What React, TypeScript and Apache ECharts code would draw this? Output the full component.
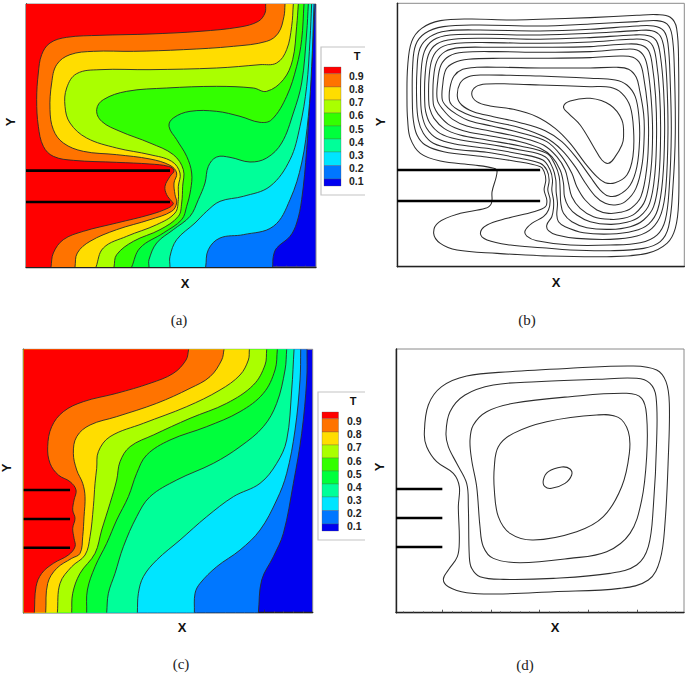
import React, { useEffect, useRef } from "react";
import * as echarts from "echarts";

type P = [number, number];

const levelColors = ["#ff0000", "#ff7300", "#ffdd00", "#aaff00", "#33ff00", "#00ff3c", "#00ff99", "#00e5ff", "#0077ff", "#0000f0"];
const levelLabels = ["0.9", "0.8", "0.7", "0.6", "0.5", "0.4", "0.3", "0.2", "0.1"];

// Panel (a) isotherms, hot to cool
const a1: P[] = [[797,13],[795,40],[775,65],[720,82],[600,95],[450,103],[300,107],[200,113],[150,130],[125,165],[115,220],[110,300],[115,380],[130,440],[160,470],[220,482],[350,488],[450,493],[505,500],[522,512],[510,530],[495,560],[500,585],[515,605],[520,612],[505,625],[450,645],[350,670],[250,695],[190,720],[160,760],[153,802]];
const a2: P[] = [[855,13],[852,50],[835,100],[800,125],[700,140],[550,150],[400,155],[280,155],[210,165],[170,195],[155,250],[150,330],[160,390],[190,430],[250,455],[350,465],[450,478],[510,497],[530,520],[522,550],[525,585],[530,610],[515,635],[450,660],[350,690],[270,725],[232,760],[225,802]];
const a3: P[] = [[880,13],[875,80],[860,150],[830,190],[780,195],[650,205],[450,210],[300,210],[230,222],[200,265],[195,320],[210,370],[260,415],[350,445],[450,465],[515,485],[540,520],[535,560],[535,600],[525,640],[470,675],[380,710],[310,745],[288,802]];
const a4: P[] = [[895,13],[890,80],[878,180],[850,240],[800,275],[760,265],[650,260],[500,265],[380,275],[310,300],[290,330],[305,365],[360,395],[450,430],[520,465],[550,510],[548,560],[545,610],[535,650],[480,690],[400,725],[350,765],[342,802]];
const a5: P[] = [[912,13],[905,120],[890,200],[860,290],[815,360],[780,368],[720,350],[650,335],[570,335],[520,355],[507,380],[530,420],[560,470],[575,520],[572,570],[560,620],[545,660],[490,700],[420,745],[395,802]];
const a6: P[] = [[925,13],[920,100],[905,250],[880,340],[845,430],[800,475],[750,487],[690,473],[650,472],[625,500],[615,550],[595,600],[570,650],[520,690],[470,730],[447,780],[447,802]];
const a7: P[] = [[935,13],[930,120],[920,260],[900,380],[870,480],[810,560],[730,590],[660,605],[620,635],[585,670],[530,720],[510,770],[510,802]];
const a8: P[] = [[942,13],[935,200],[925,350],[905,490],[870,600],[820,680],[730,705],[660,715],[625,750],[617,802]];
const a9: P[] = [[946,13],[943,50],[935,200],[920,450],[905,600],[890,670],[870,710],[830,745],[820,770],[818,802]];

// Panel (c) isotherms, hot to cool
const c1: P[] = [[566,28],[558,60],[520,100],[450,130],[350,160],[250,185],[190,215],[155,260],[143,320],[150,370],[175,405],[210,425],[228,450],[222,480],[218,510],[225,535],[218,565],[222,595],[225,620],[205,645],[160,670],[125,700],[108,740],[103,818]];
const c2: P[] = [[672,28],[665,60],[630,110],[570,145],[470,190],[350,230],[270,255],[230,290],[220,340],[230,390],[248,430],[255,470],[252,530],[248,590],[240,640],[215,655],[170,685],[143,730],[137,818]];
const c3: P[] = [[748,28],[745,60],[720,105],[660,150],[560,200],[430,250],[330,290],[295,335],[290,385],[285,430],[280,500],[270,590],[255,645],[215,680],[180,730],[172,818]];
const c4: P[] = [[800,28],[795,75],[760,135],[680,190],[570,235],[460,285],[390,320],[360,365],[350,420],[330,490],[305,570],[285,640],[240,700],[218,760],[215,818]];
const c5: P[] = [[832,28],[825,90],[790,160],[720,215],[620,260],[510,300],[440,345],[410,400],[385,470],[350,540],[320,610],[285,680],[262,750],[260,818]];
const c6: P[] = [[860,28],[855,90],[830,190],[790,260],[720,320],[640,370],[530,420],[450,470],[410,530],[370,620],[345,700],[325,760],[320,818]];
const c7: P[] = [[882,28],[875,150],[860,300],[830,370],[780,430],[700,470],[620,530],[540,600],[470,660],[430,710],[415,760],[412,818]];
const c8: P[] = [[902,28],[900,120],[885,270],[860,400],[830,480],[780,570],[720,630],[650,680],[600,730],[585,760],[583,818]];
const c9: P[] = [[921,28],[920,120],[905,280],[880,430],[850,580],[820,650],[785,720],[775,818]];

// Panel (b) streamlines, outermost to innermost
const b1: P[] = [[111,300],[113,200],[125,125],[155,85],[211,62],[300,57],[420,60],[510,58],[660,53],[800,46],[860,44],[900,52],[919,85],[925,200],[925,400],[925,605],[915,685],[890,730],[830,760],[710,770],[510,767],[381,760],[261,750],[211,730],[191,700],[206,667],[271,640],[346,625],[364,610],[366,575],[381,515],[371,505],[311,495],[211,483],[151,460],[121,415],[113,360]];
const b2: P[] = [[127,300],[128,200],[137,135],[165,100],[220,80],[320,75],[510,78],[660,72],[800,65],[860,62],[890,72],[905,105],[912,200],[915,400],[908,560],[895,680],[870,725],[820,745],[720,752],[600,750],[516,743],[421,735],[351,720],[331,700],[351,675],[411,655],[491,635],[526,620],[530,600],[522,570],[527,540],[522,515],[511,500],[431,483],[341,470],[221,455],[166,435],[141,405],[130,360]];
const b3: P[] = [[140,300],[141,210],[150,145],[180,110],[230,93],[330,90],[510,93],[660,88],[800,78],[850,78],[880,92],[893,130],[900,250],[903,400],[897,560],[885,660],[860,705],[810,728],[720,735],[600,735],[500,722],[470,708],[465,692],[485,670],[520,650],[535,630],[540,600],[533,570],[537,540],[530,510],[510,490],[450,475],[350,457],[250,447],[190,430],[160,400],[145,360]];
const b4: P[] = [[152,300],[153,220],[163,155],[190,120],[240,105],[340,103],[510,105],[660,100],[800,92],[845,92],[870,108],[882,150],[890,250],[893,400],[887,560],[873,640],[845,685],[800,708],[720,718],[620,715],[560,705],[535,692],[530,675],[545,650],[550,625],[550,600],[545,570],[547,540],[540,510],[518,480],[450,462],[350,445],[255,432],[200,415],[170,385],[156,345]];
const b5: P[] = [[164,300],[165,230],[175,165],[200,132],[250,118],[350,115],[510,118],[660,113],[790,105],[835,107],[858,122],[870,165],[880,270],[883,400],[877,540],[862,630],[835,672],[790,693],[720,702],[640,698],[585,680],[565,665],[560,645],[562,610],[558,575],[557,540],[548,505],[525,470],[450,450],[350,432],[262,418],[210,400],[180,370],[167,335]];
const b6: P[] = [[176,300],[177,235],[187,175],[212,143],[260,130],[360,128],[510,130],[660,126],[780,118],[825,120],[847,137],[858,180],[868,280],[871,400],[866,530],[850,620],[820,660],[780,680],[720,688],[650,683],[605,665],[580,640],[572,610],[570,570],[567,530],[555,495],[530,460],[450,438],[350,420],[270,405],[222,385],[192,355],[179,325]];
const b7: P[] = [[189,300],[190,240],[200,185],[225,155],[270,143],[370,142],[510,142],[660,140],[770,132],[812,135],[835,152],[846,195],[856,290],[859,400],[854,520],[838,610],[808,650],[770,667],[720,673],[660,665],[620,645],[595,620],[583,590],[580,550],[570,510],[545,470],[510,445],[450,425],[350,406],[280,392],[235,373],[205,343],[192,320]];
const b8: P[] = [[202,300],[203,245],[213,195],[238,168],[280,157],[380,155],[510,157],[660,155],[760,148],[800,150],[822,170],[833,210],[843,300],[847,400],[842,510],[825,600],[795,640],[760,655],[720,658],[670,650],[630,625],[605,590],[595,550],[585,510],[560,470],[520,435],[450,412],[360,393],[290,378],[248,358],[220,330]];
const b9: P[] = [[217,300],[218,255],[228,208],[252,188],[295,178],[390,175],[510,175],[660,173],[750,168],[788,172],[810,192],[820,230],[832,320],[835,400],[830,500],[812,590],[782,625],[750,637],[715,640],[680,630],[645,600],[620,560],[605,520],[575,470],[530,425],[450,398],[365,378],[300,363],[260,343],[232,322]];
const b10: P[] = [[238,300],[240,262],[252,228],[278,208],[320,202],[400,202],[510,204],[660,204],[740,202],[775,208],[798,232],[808,270],[820,340],[822,400],[816,490],[797,565],[765,605],[735,615],[705,610],[675,588],[645,548],[615,500],[575,450],[525,412],[450,383],[370,365],[305,348],[265,330],[245,315]];
const b11: P[] = [[262,290],[270,250],[295,230],[340,225],[420,226],[510,228],[660,235],[735,240],[770,255],[795,290],[806,350],[808,420],[800,500],[780,555],[745,585],[715,588],[690,570],[660,530],[620,475],[575,425],[525,392],[450,368],[370,350],[310,335],[275,315]];
const b12: P[] = [[305,282],[318,260],[350,252],[420,252],[510,255],[660,260],[720,262],[755,280],[780,320],[790,390],[788,470],[770,525],[735,548],[705,548],[680,530],[645,490],[600,430],[555,385],[500,350],[430,328],[360,318],[320,305]];
const b13: P[] = [[580,320],[600,303],[660,295],[720,315],[755,360],[760,410],[755,435],[735,470],[715,490],[695,480],[670,440],[630,375],[595,340]];

// Panel (d) streamlines, outermost to innermost
const d1: P[] = [[163,280],[175,195],[215,140],[290,108],[420,95],[600,85],[790,78],[860,90],[888,125],[898,190],[895,350],[885,550],[870,660],[835,720],[750,745],[550,755],[380,762],[290,758],[235,740],[220,718],[235,690],[262,650],[268,600],[265,500],[268,440],[250,400],[200,365],[170,320]];
const d2: P[] = [[228,280],[240,215],[285,165],[370,135],[500,125],[680,118],[800,115],[840,130],[858,170],[860,300],[850,500],[835,620],[800,675],[720,700],[550,715],[400,718],[330,710],[305,685],[298,650],[295,500],[290,430],[260,370],[235,320]];
const d3: P[] = [[300,300],[310,255],[350,215],[430,190],[600,170],[770,160],[815,175],[830,230],[830,350],[815,480],[780,580],[710,635],[600,655],[450,668],[370,655],[340,620],[330,560],[320,440],[305,360]];
const d4: P[] = [[373,380],[385,320],[430,280],[530,245],[680,225],[745,232],[775,275],[778,340],[755,440],[700,530],[620,575],[490,600],[420,580],[385,530],[373,450]];
const d5: P[] = [[520,420],[535,395],[575,381],[600,387],[605,405],[585,430],[545,445],[525,440]];

const finsA: P[][] = [[[78,513],[510,513]],[[78,607],[510,607]]];
const finsB: P[][] = [[[82,510],[510,510]],[[82,603],[510,603]]];
const finsC: P[][] = [[[71,450],[210,450]],[[71,537],[210,537]],[[71,623],[210,623]]];
const finsD: P[][] = [[[78,447],[217,447]],[[78,534],[217,534]],[[78,621],[217,621]]];

const majorTicksA = [217,363,509,655,801];
const minorTicksA = [101,130,159,188,246,275,304,333,392,421,450,479,538,567,596,625,684,713,742,771,830,859,888,917];
const majorTicksC = [209,355,501,647,793];
const minorTicksC = [93,122,151,180,238,267,296,325,384,413,442,471,530,559,588,617,676,705,734,763,822,851,880,909];

const isotherms = { a: [a1,a2,a3,a4,a5,a6,a7,a8,a9], c: [c1,c2,c3,c4,c5,c6,c7,c8,c9] };
const streamsB = [b1,b2,b3,b4,b5,b6,b7,b8,b9,b10,b11,b12,b13];
const streamsD = [d1,d2,d3,d4,d5];

function spline(px: number[][], closed: boolean): string {
  const n = px.length;
  const at = (i: number) => closed ? px[(i + n) % n] : px[Math.max(0, Math.min(n - 1, i))];
  const tangent = (i: number) => {
    const a = at(i - 1), b = at(i + 1);
    const dx = b[0] - a[0], dy = b[1] - a[1];
    const l = Math.hypot(dx, dy) || 1;
    return [dx / l, dy / l];
  };
  let d = `M${px[0][0]} ${px[0][1]}`;
  const last = closed ? n : n - 1;
  for (let i = 0; i < last; i++) {
    const p1 = at(i), p2 = at(i + 1);
    const t1 = tangent(i), t2 = tangent(i + 1);
    const s = Math.hypot(p2[0] - p1[0], p2[1] - p1[1]) * 0.36;
    d += `C${p1[0] + t1[0] * s} ${p1[1] + t1[1] * s} ${p2[0] - t2[0] * s} ${p2[1] - t2[1] * s} ${p2[0]} ${p2[1]}`;
  }
  return d;
}

const frames = [
  { left: 26, top: 4, width: 290, height: 263, xr: [78, 948], yr: [13, 802] },
  { left: 397.3, top: 3.3, width: 287, height: 263.4, xr: [82, 942], yr: [10, 800] },
  { left: 23.7, top: 349.3, width: 289, height: 263.4, xr: [71, 938], yr: [28, 818] },
  { left: 396, top: 349, width: 288, height: 263.7, xr: [78, 942], yr: [27, 818] },
];

function fillSeries(idx: number, pts: P[], color: string, fr: any): any {
  return {
    type: "custom", xAxisIndex: idx, yAxisIndex: idx, data: pts, silent: true, clip: true,
    renderItem(params: any, api: any) {
      if (params.dataIndex !== 0) return null;
      const px = pts.map((p) => api.coord(p));
      const line = spline(px, false);
      const a = api.coord([fr.xr[0], fr.yr[1]]), b = api.coord([fr.xr[0], fr.yr[0]]);
      return {
        type: "group",
        children: [
          { type: "path", shape: { pathData: `${line}L${a[0]} ${a[1]}L${b[0]} ${b[1]}Z` }, style: { fill: color, stroke: null } },
          { type: "path", shape: { pathData: line }, style: { fill: null, stroke: "#2a2a2a", lineWidth: 0.9 } },
        ],
      };
    },
  };
}

function streamSeries(idx: number, pts: P[]): any {
  return {
    type: "custom", xAxisIndex: idx, yAxisIndex: idx, data: pts, silent: true, clip: true,
    renderItem(params: any, api: any) {
      if (params.dataIndex !== 0) return null;
      const px = pts.map((p) => api.coord(p));
      return { type: "path", shape: { pathData: spline(px, true) + "Z" }, style: { fill: null, stroke: "#2e2e2e", lineWidth: 1.05 } };
    },
  };
}

function finSeries(idx: number, fins: P[][]): any[] {
  return fins.map((f) => ({
    type: "line", xAxisIndex: idx, yAxisIndex: idx, data: f, symbol: "none", silent: true, z: 10,
    lineStyle: { color: "#000", width: 2.6 },
  }));
}

function legend(x: number, y: number, w: number, h: number, px: number, pw: number, py: number, steps: number[], tx: number, ty: number, lx: number, ly: number[]): any[] {
  const out: any[] = [
    { type: "polyline", shape: { points: [[x + w, y], [x, y], [x, y + h], [x + w, y + h]] }, style: { fill: null, stroke: "#c4c4c4", lineWidth: 1.2 } },
    { type: "text", x: tx, y: ty, style: { text: "T", fontFamily: "Liberation Sans", fontWeight: "bold", fontSize: 11, fill: "#111", align: "center", verticalAlign: "middle" } },
  ];
  levelColors.forEach((c, i) => {
    out.push({ type: "rect", shape: { x: px, y: py + steps[i], width: pw, height: steps[i + 1] - steps[i] }, style: { fill: c, stroke: "#555", lineWidth: 0.3 } });
  });
  levelLabels.forEach((t, i) => {
    out.push({ type: "text", x: lx, y: ly[i], style: { text: t, fontFamily: "Liberation Sans", fontWeight: "bold", fontSize: 10.5, fill: "#222", align: "left", verticalAlign: "middle" } });
  });
  return out;
}

const axisName = (t: string, x: number, y: number, rot = false) => ({
  type: "text", x, y, rotation: rot ? Math.PI / 2 : 0,
  style: { text: t, fontFamily: "Liberation Sans", fontWeight: "bold", fontSize: 13, fill: "#111", align: "center", verticalAlign: "middle" },
});
const caption = (t: string, x: number, y: number) => ({
  type: "text", x, y, style: { text: t, fontFamily: "Liberation Serif", fontSize: 15, fill: "#222", align: "center", verticalAlign: "middle" },
});

export default function App() {
  const ref = useRef<HTMLDivElement>(null);
  useEffect(() => {
    document.body.style.margin = "0";
    const chart = echarts.init(ref.current!, undefined, { renderer: "svg" });

    const grid = frames.map((f, i) => ({
      left: f.left, top: f.top, width: f.width, height: f.height, containLabel: false, show: true,
      borderColor: "#8a8a8a", borderWidth: 1,
      backgroundColor: i === 0 || i === 2 ? levelColors[9] : "#fff",
    }));
    const xAxis: any[] = frames.map((f, i) => ({
      type: "value", gridIndex: i, min: f.xr[0], max: f.xr[1], splitLine: { show: false },
      axisLine: { show: true, onZero: false, lineStyle: { color: "#222", width: 1.4 } },
      axisLabel: { show: false },
      axisTick: i === 1 ? { show: false } : { show: true, inside: true, length: 3, lineStyle: { color: "#333", width: 0.8 }, customValues: i === 2 ? majorTicksC : majorTicksA },
    }));
    const yAxis: any[] = frames.map((f, i) => ({
      type: "value", gridIndex: i, min: f.yr[0], max: f.yr[1], inverse: true, splitLine: { show: false },
      axisLine: { show: true, onZero: false, lineStyle: { color: "#222", width: 1.4 } },
      axisLabel: { show: false }, axisTick: { show: false },
    }));
    [0, 2, 3].forEach((i) => {
      const f = frames[i];
      xAxis.push({
        type: "value", gridIndex: i, min: f.xr[0], max: f.xr[1], position: "bottom", splitLine: { show: false },
        axisLine: { show: false, onZero: false }, axisLabel: { show: false },
        axisTick: { show: true, inside: true, length: 1.5, lineStyle: { color: "#555", width: 0.6 }, customValues: i === 2 ? minorTicksC : minorTicksA },
      });
    });

    const series: any[] = [];
    isotherms.a.slice().reverse().forEach((pts, i) => series.push(fillSeries(0, pts, levelColors[8 - i], frames[0])));
    isotherms.c.slice().reverse().forEach((pts, i) => series.push(fillSeries(2, pts, levelColors[8 - i], frames[2])));
    streamsB.forEach((pts) => series.push(streamSeries(1, pts)));
    streamsD.forEach((pts) => series.push(streamSeries(3, pts)));
    series.push(...finSeries(0, finsA), ...finSeries(1, finsB), ...finSeries(2, finsC), ...finSeries(3, finsD));

    const stepsA = [0, 6.7, 20, 33, 46, 59, 72, 85, 98.5, 112, 119];
    const labelYA = [76, 89, 102, 115, 128.5, 141.5, 154.5, 167.5, 181];
    const labelYC = [421, 434, 447, 460.5, 473.5, 487, 500, 513, 526];

    chart.setOption({
      animation: false,
      grid, xAxis, yAxis, series,
      graphic: { elements: [
        ...legend(321, 47, 44, 148, 324, 17, 67, stepsA, 357, 56, 349, labelYA),
        ...legend(318, 392, 47, 148, 322, 16.5, 412, stepsA, 353, 401, 347, labelYC),
        axisName("X", 185, 283), axisName("Y", 10, 122, true),
        axisName("X", 556, 282), axisName("Y", 380, 122, true),
        axisName("X", 182, 627), axisName("Y", 6, 468, true),
        axisName("X", 555, 627), axisName("Y", 379, 467, true),
        caption("(a)", 179, 320), caption("(b)", 527, 320),
        caption("(c)", 181, 664), caption("(d)", 525, 665),
      ] },
    });
    return () => chart.dispose();
  }, []);
  return <div ref={ref} style={{ width: 685, height: 674 }} />;
}
